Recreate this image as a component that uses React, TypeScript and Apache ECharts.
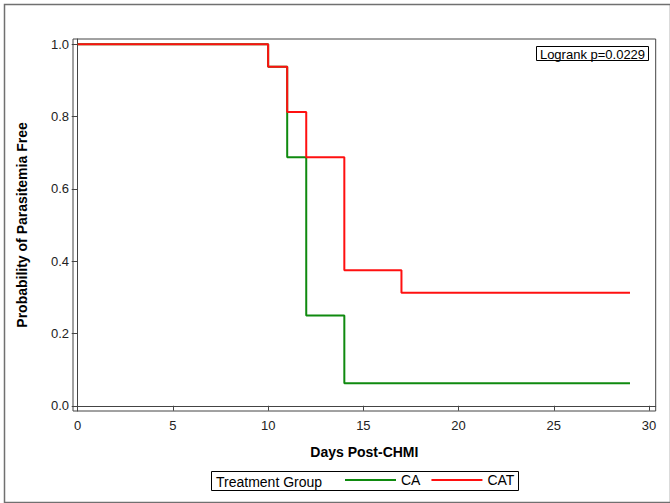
import React, { useEffect, useRef } from "react";
import * as echarts from "echarts";

const FONT = "'Liberation Sans', Arial, sans-serif";

const caTimes = [0, 10, 11, 12, 14, 29];
const caSurv = [1.0, 0.9375, 0.6875, 0.25, 0.0625, 0.0625];
const catTimes = [0, 10, 11, 12, 14, 17, 29];
const catSurv = [1.0, 0.9375, 0.8125, 0.6875, 0.375, 0.3125, 0.3125];

const xTicks = [0, 5, 10, 15, 20, 25, 30];
const yTicks = [0, 0.2, 0.4, 0.6, 0.8, 1.0];

const seriesNames = ["CA", "CAT"];
const seriesColors = ["#0f8a0f", "#ff1010"];
const legendTitle = "Treatment Group";
const pValueText = "Logrank p=0.0229";
const xTitle = "Days Post-CHMI";
const yTitle = "Probability of Parasitemia Free";

export default function App() {
  const ref = useRef<HTMLDivElement>(null);
  useEffect(() => {
    document.body.style.margin = "0";
    if (!ref.current) return;
    const chart = echarts.init(ref.current, null, { renderer: "svg" });
    const toPairs = (t: number[], s: number[]) => t.map((v, i) => [v, s[i]]);
    chart.setOption({
      animation: false,
      backgroundColor: "#fff",
      grid: {
        left: 73,
        right: 14.3,
        top: 39,
        bottom: 92,
        show: true,
        borderColor: "#444",
        borderWidth: 1,
        backgroundColor: "transparent",
      },
      xAxis: {
        type: "value",
        min: -0.247,
        max: 30.35,
        name: xTitle,
        nameLocation: "middle",
        nameGap: 34,
        nameTextStyle: { fontFamily: FONT, fontSize: 14, fontWeight: "bold", color: "#000" },
        axisLine: { show: true, lineStyle: { color: "#444", width: 1 } },
        axisTick: { show: true, length: 5, customValues: xTicks, lineStyle: { color: "#444" } },
        axisLabel: {
          customValues: xTicks,
          fontFamily: FONT,
          fontSize: 13,
          color: "#222",
          margin: 8,
          formatter: (v: number) => String(v),
        },
        splitLine: { show: false },
      },
      yAxis: {
        type: "value",
        min: -0.0145,
        max: 1.0145,
        name: yTitle,
        nameLocation: "middle",
        nameGap: 44,
        nameTextStyle: { fontFamily: FONT, fontSize: 14, fontWeight: "bold", color: "#000" },
        axisLine: { show: true, lineStyle: { color: "#444", width: 1 } },
        axisTick: { show: true, length: 6, customValues: yTicks, lineStyle: { color: "#444" } },
        axisLabel: {
          customValues: yTicks,
          fontFamily: FONT,
          fontSize: 13,
          color: "#222",
          margin: 4,
          formatter: (v: number) => v.toFixed(1),
        },
        splitLine: { show: false },
      },
      legend: {
        left: 345,
        top: 473,
        padding: 0,
        itemWidth: 51,
        itemHeight: 2,
        itemGap: 11,
        icon: "rect",
        data: seriesNames,
        textStyle: { fontFamily: FONT, fontSize: 14, color: "#000" },
      },
      series: [
        {
          name: seriesNames[0],
          type: "line",
          step: "end",
          symbol: "none",
          color: seriesColors[0],
          lineStyle: { width: 2, color: seriesColors[0] },
          data: toPairs(caTimes, caSurv),
          z: 2,
        },
        {
          name: seriesNames[1],
          type: "line",
          step: "end",
          symbol: "none",
          color: seriesColors[1],
          lineStyle: { width: 2, color: seriesColors[1] },
          data: toPairs(catTimes, catSurv),
          z: 3,
        },
      ],
      graphic: [
        {
          type: "rect",
          left: 2,
          top: 2,
          shape: { x: 0, y: 0, width: 666, height: 498 },
          style: { fill: "none", stroke: "#707070", lineWidth: 1.5 },
          silent: true,
        },
        {
          type: "rect",
          shape: { x: 536.5, y: 46.5, width: 112, height: 14 },
          style: { fill: "#fff", stroke: "#000", lineWidth: 1 },
          z: 10,
        },
        {
          type: "text",
          x: 592.5,
          y: 54,
          style: {
            text: pValueText,
            fontFamily: FONT,
            fontSize: 13,
            fill: "#000",
            align: "center",
            verticalAlign: "middle",
          },
          z: 11,
        },
        {
          type: "rect",
          shape: { x: 211.5, y: 471.5, width: 307, height: 19 },
          style: { fill: "none", stroke: "#000", lineWidth: 1 },
          z: 10,
        },
        {
          type: "text",
          x: 216,
          y: 481.5,
          style: {
            text: legendTitle,
            fontFamily: FONT,
            fontSize: 14,
            fill: "#000",
            align: "left",
            verticalAlign: "middle",
          },
          z: 11,
        },
      ],
    });
    return () => chart.dispose();
  }, []);
  return <div ref={ref} style={{ width: 670, height: 503 }} />;
}
